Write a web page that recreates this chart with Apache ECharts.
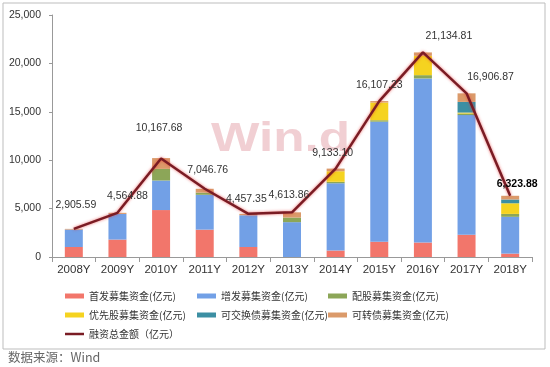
<!DOCTYPE html>
<html>
<head>
<meta charset="utf-8">
<script src="https://cdn.jsdelivr.net/npm/echarts@6/dist/echarts.min.js"></script>
<style>html,body{margin:0;padding:0;background:#fff;}#c{width:550px;height:367px;}</style>
</head>
<body>
<div id="c"></div>
<script>
const categories = ['2008Y','2009Y','2010Y','2011Y','2012Y','2013Y','2014Y','2015Y','2016Y','2017Y','2018Y'];
const ipo   = [1034, 1800, 4850, 2825, 1034, 0, 669, 1578, 1496, 2301, 350];
const seo   = [1800, 2650, 3050, 3600, 3280, 3600, 6950, 12400, 16950, 12360, 3800];
const rights= [0, 0, 1200, 220, 0, 475, 150, 150, 340, 160, 300];
const pref  = [0, 0, 0, 0, 0, 0, 1090, 1830, 2000, 100, 1100];
const exch  = [0, 0, 0, 0, 0, 0, 0, 0, 0, 1100, 390];
const conv  = [71, 115, 1118, 402, 143, 539, 274, 149, 349, 886, 384];
const total = [2905.59, 4564.88, 10167.68, 7046.76, 4457.35, 4613.86, 9133.10, 16107.23, 21134.81, 16906.87, 6323.88];
const yTicks = [0, 5000, 10000, 15000, 20000, 25000];

const names = ['首发募集资金(亿元)','增发募集资金(亿元)','配股募集资金(亿元)','优先股募集资金(亿元)','可交换债募集资金(亿元)','可转债募集资金(亿元)','融资总金额（亿元）'];
const colors = ['#F2766B','#72A0E6','#8CA658','#F5D320','#3C8FA3','#DB9A6A','#7A1C24'];
const barData = [ipo, seo, rights, pref, exch, conv];

// label style offsets (presentation only)
const labelShift = [[2,-13],[10,-6],[-2,-20],[3,-8],[-2,-4],[-3,-7],[-3,-5],[0,-5],[26,-6],[24,-6],[7,-1]];

const fmt = v => v.toLocaleString('en-US', {minimumFractionDigits:2, maximumFractionDigits:2});

const chart = echarts.init(document.getElementById('c'), null, {renderer:'canvas'});

const series = barData.map((d, i) => ({
  name: names[i], type: 'bar', stack: 'all', barWidth: 18, data: d,
  itemStyle: {color: colors[i]}, z: 2
}));
series.push({
  name: names[6], type: 'line', data: total.map((v, i) => ({
    value: v,
    label: {show: true, offset: labelShift[i], fontWeight: i === total.length - 1 ? 'bold' : 'normal', color: i === total.length - 1 ? '#000' : '#333'}
  })),
  showSymbol: true, symbol: 'circle', symbolSize: 0.1, z: 5,
  lineStyle: {color: colors[6], width: 2.5, shadowColor: 'rgba(230,50,50,0.7)', shadowBlur: 3},
  itemStyle: {color: colors[6]},
  label: {show: true, position: 'top', distance: 5, fontSize: 10.5, fontFamily: 'Arial, Liberation Sans', formatter: p => fmt(p.value)}
});

const legendPos = [[65,289],[197,289],[328,289],[65,308],[197,308],[328,308],[65,327]];
const legends = names.map((n, i) => ({
  data: [n], left: legendPos[i][0], top: legendPos[i][1], padding: 0,
  itemWidth: 19, itemHeight: i === 6 ? 2.5 : 5, icon: 'rect',
  textStyle: {fontSize: 10, color: '#333', fontFamily: 'Noto Sans CJK SC', lineHeight: 14}
}));

chart.setOption({
  animation: false,
  backgroundColor: '#fff',
  grid: {left: 52, right: 18, top: 15, bottom: 110},
  xAxis: {
    type: 'category', data: categories,
    axisLine: {lineStyle: {color: '#999'}},
    axisTick: {show: true, alignWithLabel: false, length: 5, lineStyle: {color: '#999'}},
    axisLabel: {fontSize: 11.5, color: '#333', fontFamily: 'Arial, Liberation Sans', margin: 7}
  },
  yAxis: {
    type: 'value', min: yTicks[0], max: yTicks[yTicks.length - 1], interval: 5000,
    axisLine: {show: true, lineStyle: {color: '#999'}},
    axisTick: {show: true, length: 3, lineStyle: {color: '#999'}},
    splitLine: {show: false},
    axisLabel: {fontSize: 10.5, color: '#333', fontFamily: 'Arial, Liberation Sans', margin: 11,
      formatter: v => v.toLocaleString('en-US')}
  },
  legend: legends,
  graphic: [
    {type: 'rect', shape: {x: 3, y: 3, width: 542, height: 346}, style: {fill: 'none', stroke: '#bdbdbd', lineWidth: 1}, z: -10, silent: true},
    {type: 'text', left: 211, top: 119, z: -5, silent: true, scaleX: 1.25,
      style: {text: 'Win.d', fontSize: 41, fontWeight: 'bold', fontFamily: 'Arial, Liberation Sans', fill: 'rgba(228,160,168,0.5)'}},
    {type: 'text', left: 8, top: 351, silent: true,
      style: {text: '数据来源：Wind', fontSize: 12.5, fill: '#666', fontFamily: 'Noto Sans CJK SC'}}
  ],
  series: series
});
</script>
</body>
</html>
